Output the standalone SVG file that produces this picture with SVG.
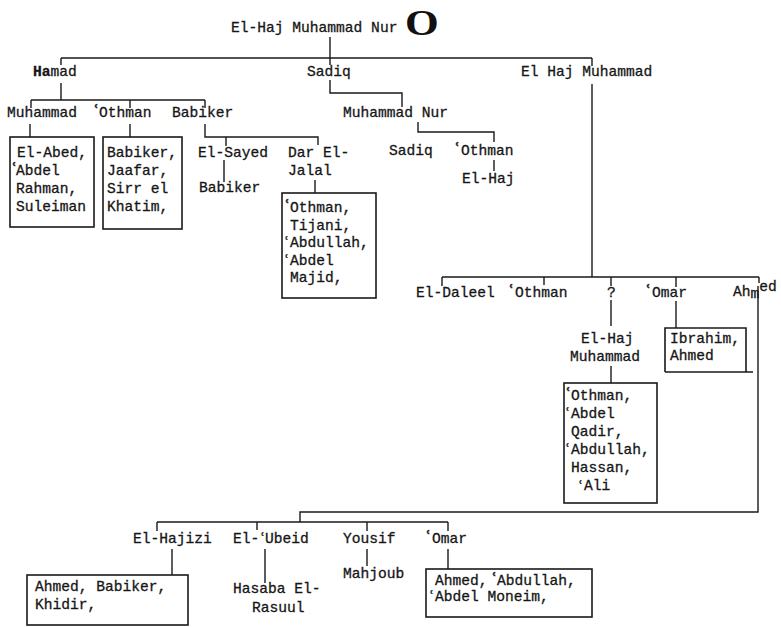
<svg xmlns="http://www.w3.org/2000/svg" width="781" height="627" viewBox="0 0 781 627">
<style>
.t{font-family:"Liberation Mono","Courier New",monospace;font-size:14.6px;fill:#161616;stroke:#161616;stroke-width:0.3}
.a{font-family:"DejaVu Sans",sans-serif;font-size:16px;font-weight:bold}
.s{font-size:13px}
.b{font-weight:bold}
.c{fill:none;stroke:#1a1a1a;stroke-width:1.4}
.box{fill:none;stroke:#1a1a1a;stroke-width:1.6}
</style>
<rect width="781" height="627" fill="#ffffff"/>
<g id="connectors" class="c">
<path d="M330,37V65M61,58H592M61,58V65M592,58V66"/>
<path d="M61,83V100M31,100H205M31,100V108M130,100V108M205,100V108"/>
<path d="M30,124V137M130,124V137M205,124V137H318V145M226,137V146M224,160V182M315,180V193"/>
<path d="M330,80V93H402V107M418,122V132H494V142M494,160V171"/>
<path d="M592,84V277M442,277H759M442,277V286M544,277V285M611,277V286M676,277V287M759,277V283"/>
<path d="M611,300V326M611,366V383M676,301V328"/>
<path d="M758,286V512H300V522M157,522H448M157,522V531M257,522V530M367,522V531M448,522V531"/>
<path d="M172,549V575M265,549V583M367,549V566M448,549V569"/>
</g>
<g id="root">
<text class="t" x="231" y="32">El-Haj Muhammad Nur</text>
<text transform="translate(405,35) scale(1.24,1)" font-family="Liberation Serif,serif" font-weight="bold" font-size="35" fill="#111">O</text>
</g>
<g id="hamad"><text class="t" x="33" y="76"><tspan class="b">Ha</tspan>mad</text></g>
<g id="sadiq"><text class="t" x="307" y="76">Sadiq</text></g>
<g id="elhaj-muhammad"><text class="t" x="521" y="76">El Haj Muhammad</text></g>
<g id="muhammad"><text class="t" x="7" y="117">Muhammad</text></g>
<g id="othman-1"><text class="t" x="99" y="117"><tspan class="a" x="93" dy="-1">ʿ</tspan><tspan x="99" dy="1">Othman</tspan></text></g>
<g id="babiker-1"><text class="t" x="172" y="117">Babiker</text></g>
<g id="box-muhammad">
<rect class="box" x="10" y="137" width="84" height="90"/>
<text class="t" x="17" y="157">El-Abed,</text>
<text class="t" x="16" y="175"><tspan class="a" x="11" dy="-1">ʿ</tspan><tspan x="16" dy="1">Abdel</tspan></text>
<text class="t" x="16" y="193">Rahman,</text>
<text class="t" x="16" y="211">Suleiman</text>
</g>
<g id="box-othman">
<rect class="box" x="103" y="137" width="79" height="92"/>
<text class="t" x="107" y="157">Babiker,</text>
<text class="t" x="107" y="175">Jaafar,</text>
<text class="t" x="107" y="193">Sirr el</text>
<text class="t" x="107" y="211">Khatim,</text>
</g>
<g id="el-sayed"><text class="t" x="198" y="157">El-Sayed</text></g>
<g id="babiker-2"><text class="t" x="199" y="192">Babiker</text></g>
<g id="dar-el-jalal">
<text class="t" x="288" y="157">Dar El-</text>
<text class="t" x="288" y="175">Jalal</text>
</g>
<g id="box-dar">
<rect class="box" x="282" y="193" width="94" height="105"/>
<text class="t" x="290" y="212"><tspan class="a" x="284" dy="-1">ʿ</tspan><tspan x="290" dy="1">Othman,</tspan></text>
<text class="t" x="290" y="229.5">Tijani,</text>
<text class="t" x="290" y="247"><tspan class="a s" x="284" dy="-1">ʿ</tspan><tspan x="290" dy="1">Abdullah,</tspan></text>
<text class="t" x="290" y="264.5"><tspan class="a s" x="284" dy="-1">ʿ</tspan><tspan x="290" dy="1">Abdel</tspan></text>
<text class="t" x="290" y="282">Majid,</text>
</g>
<g id="muhammad-nur"><text class="t" x="343" y="117">Muhammad Nur</text></g>
<g id="sadiq-2"><text class="t" x="389" y="155">Sadiq</text></g>
<g id="othman-2"><text class="t" x="461" y="155"><tspan class="a" x="454" dy="-1">ʿ</tspan><tspan x="461" dy="1">Othman</tspan></text></g>
<g id="el-haj-1"><text class="t" x="462" y="183">El-Haj</text></g>
<g id="el-daleel"><text class="t" x="416" y="297">El-Daleel</text></g>
<g id="othman-3"><text class="t" x="515" y="297"><tspan class="a" x="508" dy="-1">ʿ</tspan><tspan x="515" dy="1">Othman</tspan></text></g>
<g id="unknown"><text class="t" x="607" y="297">?</text></g>
<g id="omar-1"><text class="t" x="652" y="297"><tspan class="a" x="645" dy="-1">ʿ</tspan><tspan x="652" dy="1">Omar</tspan></text></g>
<g id="ahmed-1"><text class="t" x="733" y="296">Ah<tspan dy="2">m</tspan><tspan dy="-7">ed</tspan></text></g>
<g id="el-haj-muhammad-2">
<text class="t" x="581" y="343">El-Haj</text>
<text class="t" x="570" y="361">Muhammad</text>
</g>
<g id="box-elhaj">
<rect class="box" x="564" y="383" width="93" height="120"/>
<text class="t" x="571" y="400"><tspan class="a" x="565" dy="-1">ʿ</tspan><tspan x="571" dy="1">Othman,</tspan></text>
<text class="t" x="571" y="418"><tspan class="a s" x="565" dy="-1">ʿ</tspan><tspan x="571" dy="1">Abdel</tspan></text>
<text class="t" x="571" y="436">Qadir,</text>
<text class="t" x="571" y="454"><tspan class="a s" x="565" dy="-1">ʿ</tspan><tspan x="571" dy="1">Abdullah,</tspan></text>
<text class="t" x="571" y="472">Hassan,</text>
<text class="t" x="584" y="490"><tspan class="a s" x="578" dy="0">ʿ</tspan><tspan x="584">Ali</tspan></text>
</g>
<g id="box-omar-1">
<path class="box" d="M665,372V328H746V372M665,372H753"/>
<text class="t" x="670" y="343">Ibrahim,</text>
<text class="t" x="670" y="360">Ahmed</text>
</g>
<g id="el-hajizi"><text class="t" x="133" y="543">El-Hajizi</text></g>
<g id="el-ubeid"><text class="t" x="233" y="543">El-<tspan class="a s" x="260" dy="-1">ʿ</tspan><tspan x="265" dy="1">Ubeid</tspan></text></g>
<g id="yousif"><text class="t" x="343" y="543">Yousif</text></g>
<g id="omar-2"><text class="t" x="432" y="543"><tspan class="a" x="425" dy="-1">ʿ</tspan><tspan x="432" dy="1">Omar</tspan></text></g>
<g id="box-hajizi">
<rect class="box" x="27" y="575" width="161" height="50"/>
<text class="t" x="35" y="591">Ahmed, Babiker,</text>
<text class="t" x="35" y="609">Khidir,</text>
</g>
<g id="hasaba">
<text class="t" x="233" y="593">Hasaba El-</text>
<text class="t" x="252" y="612">Rasuul</text>
</g>
<g id="mahjoub"><text class="t" x="343" y="578">Mahjoub</text></g>
<g id="box-omar-2">
<rect class="box" x="426" y="569" width="166" height="48"/>
<text class="t" x="435" y="585">Ahmed,<tspan class="a" x="491" dy="-1">ʿ</tspan><tspan x="497" dy="1">Abdullah,</tspan></text>
<text class="t" x="435" y="601"><tspan class="a s" x="429" dy="-1">ʿ</tspan><tspan x="435" dy="1">Abdel Moneim,</tspan></text>
</g>
</svg>
